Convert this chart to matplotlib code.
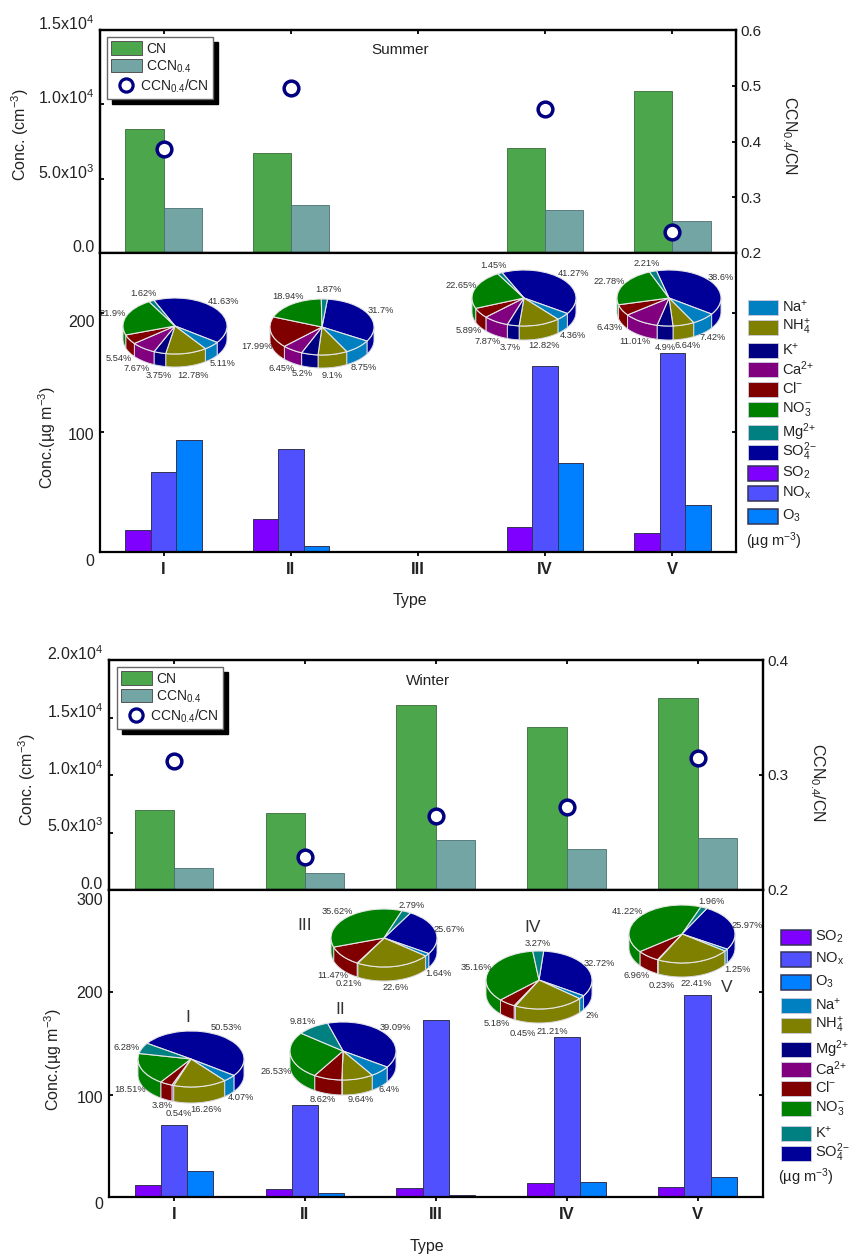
#!/usr/bin/env python3

import numpy as np
import matplotlib
matplotlib.use("Agg")
import matplotlib.pyplot as plt
from matplotlib.lines import Line2D
from matplotlib.patches import Patch, Rectangle
from matplotlib.transforms import ScaledTranslation

plt.rcParams["font.family"] = ["Liberation Sans", "DejaVu Sans"]
plt.rcParams["mathtext.default"] = "regular"

W, H = 849, 1254
nan = float("nan")

types = ["I", "II", "III", "IV", "V"]

# summer values, type III has no data
s_cn = [8340, 6730, nan, 7060, 10900]
s_ccn = [3030, 3230, nan, 2890, 2150]
s_ratio = [0.387, 0.496, nan, 0.458, 0.238]
s_so2 = [18.4, 27.6, nan, 21, 16]
s_nox = [67, 86, nan, 155.5, 166]
s_o3 = [93.6, 5, nan, 74, 39]

# winter values
w_cn = [6960, 6700, 16090, 14170, 16700]
w_ccn = [1910, 1480, 4350, 3570, 4520]
w_ratio = [0.312, 0.229, 0.264, 0.272, 0.315]
w_so2 = [11.7, 7.8, 8.8, 13.7, 9.8]
w_nox = [70, 90, 173, 156, 197]
w_o3 = [25, 4, 2, 14.7, 19.5]

# pie slices, clockwise
s_names = ["SO4", "Na", "NH4", "K", "Ca", "Cl", "NO3", "Mg"]
s_pie1 = [41.63, 5.11, 12.78, 3.75, 7.67, 5.54, 21.9, 1.62]
s_pie2 = [31.7, 8.75, 9.1, 5.2, 6.45, 17.99, 18.94, 1.87]
s_pie4 = [41.27, 4.36, 12.82, 3.7, 7.87, 5.89, 22.65, 1.45]
s_pie5 = [38.6, 7.42, 6.64, 4.9, 11.01, 6.43, 22.78, 2.21]

w_names = ["SO4", "Na", "NH4", "Ca", "Cl", "NO3", "K2"]
w_pie1 = [50.53, 4.07, 16.26, 0.54, 3.8, 18.51, 6.28]
w_pie2 = [39.09, 6.4, 9.64, 0, 8.62, 26.53, 9.81]
w_pie3 = [25.67, 1.64, 22.6, 0.21, 11.47, 35.62, 2.79]
w_pie4 = [32.72, 2, 21.21, 0.45, 5.18, 35.16, 3.27]
w_pie5 = [25.97, 1.25, 22.41, 0.23, 6.96, 41.22, 1.96]

pie_colors = {"SO4": "#000099", "Na": "#0080c0", "NH4": "#808000", "K": "#000080",
              "Ca": "#800080", "Cl": "#800000", "NO3": "#008000", "Mg": "#008080",
              "K2": "#008080"}
green = "#4ca64c"
teal = "#74a5a5"
navy = "#000080"
so2_c = "#8000ff"
nox_c = "#5050ff"
o3_c = "#0080ff"


def box(l, t, r, b):
    return [l / W, 1 - b / H, (r - l) / W, (b - t) / H]


def txt(x, y, s, **kw):
    kw.setdefault("ha", "center")
    kw.setdefault("va", "center")
    return fig.text(x / W, 1 - y / H, s, **kw)


def shift(label, dx, dy):
    # move one tick label by some pixels, dy is downwards
    off = ScaledTranslation(dx / 100, -dy / 100, fig.dpi_scale_trans)
    label.set_transform(label.get_transform() + off)


def panel(l, r, t, m, b, cn, ccn, ratio, so2, nox, o3, left_top, left_ticks, left_labels,
          right_lim, right_ticks, low_top, low_ticks, low_shift):
    x = np.arange(1, 6)

    top = fig.add_axes(box(l, t, r, m))
    top.bar(x - 0.15, cn, 0.3, color=green, edgecolor="#3a6a3a", linewidth=0.6)
    top.bar(x + 0.15, ccn, 0.3, color=teal, edgecolor="#4a6f6f", linewidth=0.6)
    top.set_xlim(0.5, 5.5)
    top.set_ylim(0, left_top)
    top.set_yticks(left_ticks)
    top.set_yticklabels(left_labels, fontsize=11.5, color="#222222", va="baseline")
    top.set_xticks(x)
    top.tick_params(axis="x", direction="in", top=True, bottom=False, labelbottom=False,
                    width=1.3, length=3)
    top.tick_params(axis="y", direction="in", width=1.3, length=3, pad=4)
    shift(top.get_yticklabels()[0], 0, -1)

    ratio_ax = top.twinx()
    ratio_ax.plot(x, ratio, "o", ms=10.6, mfc="white", mec=navy, mew=2.5, ls="none")
    ratio_ax.set_ylim(*right_lim)
    ratio_ax.set_yticks(right_ticks)
    ratio_ax.tick_params(axis="y", direction="in", width=1.3, length=3, pad=3,
                         labelsize=11, labelcolor="#222222")

    low = fig.add_axes(box(l, m, r, b))
    low.bar(x - 0.2, so2, 0.2, color=so2_c, edgecolor="#333355", linewidth=0.7)
    low.bar(x, nox, 0.2, color=nox_c, edgecolor="#333355", linewidth=0.7)
    low.bar(x + 0.2, o3, 0.2, color=o3_c, edgecolor="#333355", linewidth=0.7)
    low.set_xlim(0.5, 5.5)
    low.set_ylim(0, low_top)
    low.set_xticks(x)
    low.set_xticklabels(types, fontsize=12, fontweight="bold", color="#222222")
    low.set_yticks(low_ticks)
    low.set_yticklabels([str(v) for v in low_ticks], fontsize=11.5, color="#222222")
    low.tick_params(axis="x", direction="out", width=1.3, length=3, pad=4)
    low.tick_params(axis="y", direction="in", right=True, width=1.3, length=3, pad=4)
    for lab, dy in zip(low.get_yticklabels(), low_shift):
        shift(lab, 0, dy)

    for a in (top, ratio_ax, low):
        for sp in a.spines.values():
            sp.set_linewidth(1.6)
    return top, ratio_ax, low


def top_legend(ratio_ax, l, t):
    handles = [Patch(facecolor=green, edgecolor="#555555", linewidth=0.7),
               Patch(facecolor=teal, edgecolor="#555555", linewidth=0.7),
               Line2D([], [], marker="o", ms=9.5, mfc="white", mec=navy, mew=2.3, ls="none")]
    names = ["CN", "CCN$_{0.4}$", "CCN$_{0.4}$/CN"]
    leg = ratio_ax.legend(handles, names, loc="upper left",
                          bbox_to_anchor=(l / W, 1 - t / H), bbox_transform=fig.transFigure,
                          borderaxespad=0, fontsize=10, handlelength=2.2, handleheight=1.1,
                          handletextpad=0.3, labelspacing=0.2, borderpad=0.3, fancybox=False,
                          framealpha=1, edgecolor="#666666", labelcolor="#222222",
                          shadow={"ox": 3.6, "oy": -3.6, "alpha": 1, "color": "black"})
    # the ratio label sits further left than the other two
    leg._legend_handle_box.get_children()[0].get_children()[2].sep = -1.5


def pie3d(values, names, cx, cy, rx, ry, depth, start):
    ax = fig.add_axes(box(cx - rx, cy - ry, cx + rx, cy + ry + depth))
    colors = [pie_colors[n] for n in names]
    d = depth / ry
    edges = start - np.concatenate([[0], np.cumsum(values)]) / np.sum(values) * 360
    for i, c in enumerate(colors):
        t = np.radians(np.linspace(edges[i], edges[i + 1], 200))
        t = t[np.sin(t) <= 0]
        if len(t) < 2:
            continue
        xs = np.cos(t)
        ys = np.sin(t)
        ax.fill(np.r_[xs, xs[::-1]], np.r_[ys, ys[::-1] - d], facecolor=c,
                edgecolor="#d8d8e0", linewidth=0.7, clip_on=False)
    ax.pie(values, colors=colors, startangle=start, counterclock=False, radius=1,
           wedgeprops={"edgecolor": "#e6e6e6", "linewidth": 0.8, "clip_on": False})
    ax.set_aspect("auto")
    ax.set_xlim(-1, 1)
    ax.set_ylim(-1 - d, 1)
    ax.patch.set_alpha(0)


def pie_labels(values, spots):
    for v, (x, y) in zip(values, spots):
        txt(x, y, f"{v:g}%", fontsize=6.7, color="#333333")


def swatches(rows, left, right, text_x):
    for y, name, col, dark in rows:
        edge = "#333355" if dark else "#c8c8d8"
        fig.add_artist(Rectangle((left / W, 1 - (y + 7.5) / H), (right - left) / W, 15 / H,
                                 transform=fig.transFigure, facecolor=col, edgecolor=edge,
                                 linewidth=1.1 if dark else 0.7))
        txt(text_x, y, name, ha="left", fontsize=10.5, color="#222222")


fig = plt.figure(figsize=(W / 100, H / 100), dpi=100)

# summer block
s_top, s_rat, s_low = panel(100, 736, 30, 253, 552, s_cn, s_ccn, s_ratio, s_so2, s_nox, s_o3,
                            15000, [0, 5000, 10000, 15000],
                            ["0.0", "5.0x10$^{3}$", "1.0x10$^{4}$", "1.5x10$^{4}$"],
                            (0.2, 0.6), [0.2, 0.3, 0.4, 0.5, 0.6],
                            250, [0, 100, 200], [8, 2, 8])
top_legend(s_rat, 107, 37)

pie3d(s_pie1, s_names, 175, 326, 52, 28, 13, 114)
pie3d(s_pie2, s_names, 322, 327, 52, 28, 13, 84)
pie3d(s_pie4, s_names, 524, 298, 52, 28, 14, 115)
pie3d(s_pie5, s_names, 669, 298, 52, 28, 14, 104)

pie_labels(s_pie1, [(224, 302), (223, 364), (193, 375), (159, 375), (137, 369), (119, 359),
                    (113, 314), (143, 294)])
pie_labels(s_pie2, [(381, 311), (364, 367), (332, 375), (302, 374), (282, 369), (257, 346),
                    (288, 296), (328, 290)])
pie_labels(s_pie4, [(573, 274), (573, 335), (544, 345), (510, 347), (488, 342), (469, 331),
                    (461, 286), (493, 266)])
pie_labels(s_pie5, [(721, 277), (713, 337), (688, 345), (665, 347), (635, 342), (610, 327),
                    (609, 282), (647, 264)])

txt(400, 50, "Summer", fontsize=11, color="#222222")
txt(20, 135, "Conc. (cm$^{-3}$)", rotation=90, fontsize=11.5, color="#222222")
txt(47, 438, "Conc.(µg m$^{-3}$)", rotation=90, fontsize=11.5, color="#222222")
txt(789, 135, "CCN$_{0.4}$/CN", rotation=270, fontsize=11.5, color="#222222")
txt(410, 600, "Type", fontsize=11.5, color="#222222")

swatches([(307, "Na$^{+}$", pie_colors["Na"], False),
          (327, "NH$_{4}^{+}$", pie_colors["NH4"], False),
          (350, "K$^{+}$", pie_colors["K"], False),
          (369, r"Ca$^{2\!+\!}$", pie_colors["Ca"], False),
          (389, "Cl$^{-}$", pie_colors["Cl"], False),
          (409, "NO$_{3}^{-}$", pie_colors["NO3"], False),
          (432, r"Mg$^{2\!+\!}$", pie_colors["Mg"], False),
          (452, r"SO$_{4}^{2\!-\!}$", pie_colors["SO4"], False),
          (473, "SO$_{2}$", so2_c, True),
          (493, "NO$_{x}$", nox_c, True),
          (516, "O$_{3}$", o3_c, True)], 748, 778, 782)
txt(746, 541, "(µg m$^{-3}$)", ha="left", fontsize=10.5, color="#222222")

# winter block
w_top, w_rat, w_low = panel(108.5, 763, 660, 890, 1197, w_cn, w_ccn, w_ratio, w_so2, w_nox, w_o3,
                            20000, [0, 5000, 10000, 15000, 20000],
                            ["0.0", "5.0x10$^{3}$", "1.0x10$^{4}$", "1.5x10$^{4}$", "2.0x10$^{4}$"],
                            (0.2, 0.4), [0.2, 0.3, 0.4],
                            300, [0, 100, 200, 300], [6, 2, 0, 9])
top_legend(w_rat, 117, 667)

pie3d(w_pie1, w_names, 191, 1059, 53, 28, 16, 146)
pie3d(w_pie2, w_names, 343, 1051, 53, 29, 15, 107)
pie3d(w_pie3, w_names, 384, 938, 53, 29, 14, 60)
pie3d(w_pie4, w_names, 539, 980, 53, 29, 14, 85)
pie3d(w_pie5, w_names, 682, 934, 53, 29, 14, 62)

pie_labels(w_pie1, [(226, 1028), (241, 1097), (206, 1109), (179, 1114), (162, 1106), (130, 1089),
                    (127, 1047)])
w2 = [v for v in w_pie2 if v > 0]
pie_labels(w2, [(395, 1028), (389, 1090), (361, 1100), (323, 1100), (276, 1072), (303, 1021)])
pie_labels(w_pie3, [(449, 929), (438, 974), (396, 988), (349, 984), (333, 975), (337, 911),
                    (412, 905)])
pie_labels(w_pie4, [(599, 963), (592, 1016), (552, 1031), (523, 1033), (497, 1023), (476, 967),
                    (538, 943)])
pie_labels(w_pie5, [(747, 925), (737, 969), (696, 984), (662, 986), (637, 976), (628, 911),
                    (711, 901)])

for name, x, y in [("I", 188, 1017), ("II", 340, 1010), ("III", 305, 925), ("IV", 533, 928),
                   ("V", 727, 988)]:
    txt(x, y, name, fontsize=12.5, color="#333333")

txt(428, 681, "Winter", fontsize=11, color="#222222")
txt(27, 780, "Conc. (cm$^{-3}$)", rotation=90, fontsize=11.5, color="#222222")
txt(53, 1060, "Conc.(µg m$^{-3}$)", rotation=90, fontsize=11.5, color="#222222")
txt(817, 782, "CCN$_{0.4}$/CN", rotation=270, fontsize=11.5, color="#222222")
txt(427, 1246, "Type", fontsize=11.5, color="#222222")

swatches([(937, "SO$_{2}$", so2_c, True),
          (959, "NO$_{x}$", nox_c, True),
          (982, "O$_{3}$", o3_c, True),
          (1005, "Na$^{+}$", pie_colors["Na"], False),
          (1025, "NH$_{4}^{+}$", pie_colors["NH4"], False),
          (1049, r"Mg$^{2\!+\!}$", pie_colors["K"], False),
          (1069, r"Ca$^{2\!+\!}$", pie_colors["Ca"], False),
          (1088, "Cl$^{-}$", pie_colors["Cl"], False),
          (1108, "NO$_{3}^{-}$", pie_colors["NO3"], False),
          (1133, "K$^{+}$", pie_colors["K2"], False),
          (1153, r"SO$_{4}^{2\!-\!}$", pie_colors["SO4"], False)], 781, 811, 815)
txt(778, 1177, "(µg m$^{-3}$)", ha="left", fontsize=10.5, color="#222222")

fig.savefig("out.png", dpi=100)
